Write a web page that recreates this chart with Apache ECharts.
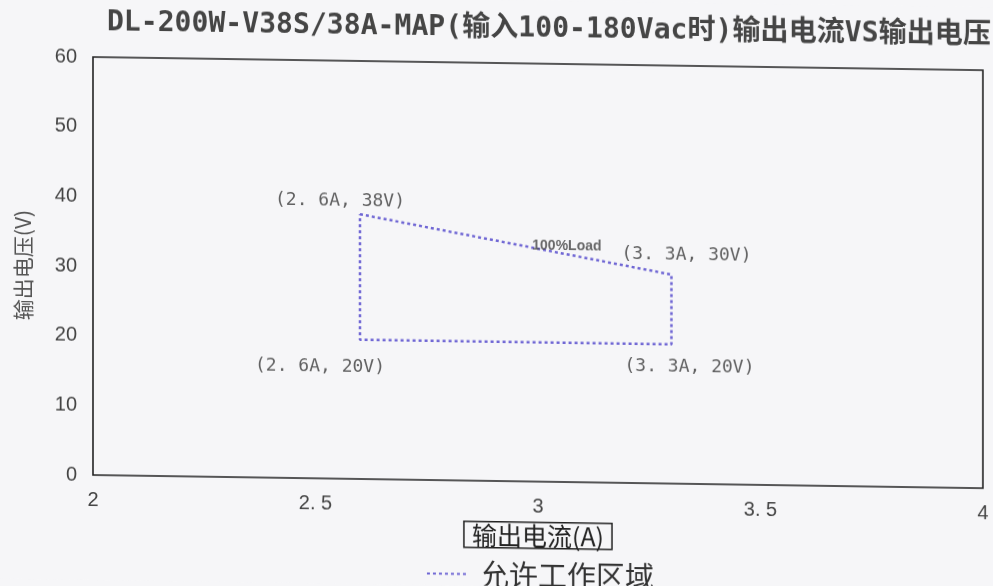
<!DOCTYPE html>
<html>
<head>
<meta charset="utf-8">
<script src="https://cdn.jsdelivr.net/npm/echarts@6/dist/echarts.min.js"></script>
<style>
  html, body { margin: 0; padding: 0; background: #f6f6f8; overflow: hidden; }
  #chart { width: 993px; height: 586px; transform: matrix(1, 0.0148, 0, 1, 0, 0); transform-origin: 50% 50%; }
</style>
</head>
<body>
<div id="chart"></div>
<script>
// ---- data ----
const chartTitle = 'DL-200W-V38S/38A-MAP(输入100-180Vac时)输出电流VS输出电压';
const xAxisName = '输出电流(A)';
const yAxisName = '输出电压(V)';
const seriesName = '允许工作区域';
const currentA = [2.6, 3.3, 3.3, 2.6, 2.6];     // polygon vertices (closed)
const voltageV = [38, 30, 20, 20, 38];
const cornerLabels = ['(2. 6A, 38V)', '(3. 3A, 30V)', '(3. 3A, 20V)', '(2. 6A, 20V)'];
const loadLabelText = '100%Load';
const loadLabelPoint = [3.065, 33.9];

// ---- styling ----
const cornerOffsets = [[-20, -13], [15, -20], [18, 23], [-40, 28]];

const chart = echarts.init(document.getElementById('chart'));

const polygonData = currentA.map((x, i) => [x, voltageV[i]]);
const labelData = cornerLabels.map((t, i) => ({
  value: [currentA[i], voltageV[i]],
  label: { formatter: t, offset: cornerOffsets[i] }
}));

chart.setOption({
  backgroundColor: '#f6f6f8',
  animation: false,
  title: {
    text: chartTitle,
    left: 544, top: 24, textAlign: 'center', textVerticalAlign: 'middle',
    textStyle: { fontFamily: "'DejaVu Sans Mono', 'Noto Sans CJK SC'", fontSize: 28.1, fontWeight: 'bold', color: '#454545' }
  },
  legend: {
    data: [{ name: seriesName, itemStyle: { opacity: 0 } }],
    left: 421, top: 555,
    itemWidth: 40, itemHeight: 14,
    textStyle: { fontFamily: "'Noto Sans CJK SC'", fontSize: 29, color: '#333', padding: [0, 0, 0, 8] }
  },
  grid: {
    left: 93, right: 10, top: 63, bottom: 105,
    outerBoundsMode: 'none', containLabel: false,
    show: true, borderColor: '#222', borderWidth: 1.6, backgroundColor: 'transparent'
  },
  xAxis: {
    type: 'value', min: 2, max: 4, interval: 0.5,
    axisLine: { show: false }, axisTick: { show: false }, splitLine: { show: false },
    axisLabel: {
      margin: 15, fontSize: 20, color: '#444', fontFamily: "'Liberation Sans'",
      formatter: v => String(v).replace('.', '. ')
    },
    name: xAxisName, nameLocation: 'middle', nameGap: 37,
    nameTextStyle: {
      fontFamily: "'Noto Sans CJK SC'", fontSize: 25, color: '#222',
      borderColor: '#222', borderWidth: 1.5, padding: [1, 8, 0, 8]
    }
  },
  yAxis: {
    type: 'value', min: 0, max: 60, interval: 10,
    axisLine: { show: false }, axisTick: { show: false }, splitLine: { show: false },
    axisLabel: { margin: 16, fontSize: 20, color: '#444', fontFamily: "'Liberation Sans'" },
    name: yAxisName, nameLocation: 'middle', nameRotate: 90, nameGap: 59,
    nameTextStyle: { fontFamily: "'Noto Sans CJK SC'", fontSize: 21, color: '#555' }
  },
  series: [
    {
      name: seriesName,
      type: 'line',
      data: polygonData,
      symbol: 'none',
      lineStyle: { color: '#6f66d4', width: 2.5, type: [3, 3] },
      itemStyle: { color: '#6f66d4' },
      z: 3
    },
    {
      name: 'labels',
      type: 'scatter',
      data: labelData,
      symbolSize: 0,
      silent: true,
      label: {
        show: true, position: 'inside',
        fontFamily: "'DejaVu Sans Mono'", fontSize: 18, color: '#3a3a3a'
      },
      z: 4
    },
    {
      name: 'load',
      type: 'scatter',
      data: [{ value: loadLabelPoint, label: { formatter: loadLabelText } }],
      symbolSize: 0,
      silent: true,
      label: {
        show: true, position: 'inside',
        fontFamily: "'Liberation Sans'", fontSize: 14, fontWeight: 'bold', color: '#444'
      },
      z: 4
    }
  ]
});
</script>
</body>
</html>
